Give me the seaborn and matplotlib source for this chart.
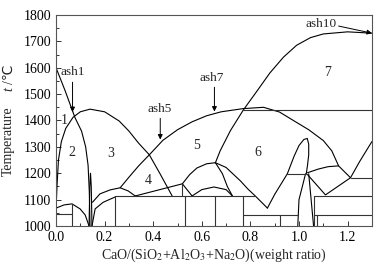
"""
Phase diagram of ash composition: temperature vs CaO/(SiO2+Al2O3+Na2O).
Saves out.png at 389x272 px.
"""
import numpy as np
import matplotlib
matplotlib.use("Agg")
import matplotlib.pyplot as plt
import seaborn as sns

# main liquidus through ash1
liq_x = [0.0, 0.037, 0.078, 0.105, 0.122, 0.132, 0.137, 0.14]
liq_t = [1600, 1514, 1411, 1360, 1300, 1230, 1130, 1000]

# dome around regions 1-3
dome1_x = [0.0, 0.004, 0.01, 0.022, 0.04, 0.07, 0.1, 0.14, 0.2, 0.26, 0.3, 0.34, 0.384, 0.43, 0.478]
dome1_t = [1060, 1150, 1250, 1320, 1370, 1412, 1433, 1443, 1433, 1398, 1360, 1314, 1270, 1195, 1114]

# rising branch through ash5/ash7 (dome of region 5)
dome5_x = [0.264, 0.3, 0.34, 0.384, 0.44, 0.5, 0.56, 0.62, 0.68, 0.77, 0.854, 0.92, 0.977, 1.04, 1.1, 1.135, 1.163]
dome5_t = [1145, 1185, 1228, 1270, 1325, 1365, 1395, 1418, 1433, 1445, 1450, 1432, 1400, 1365, 1324, 1285, 1228]

# curve bounding region 7 (ash10)
c7_x = [0.656, 0.676, 0.718, 0.771, 0.829, 0.88, 0.936, 0.99, 1.047, 1.1, 1.2, 1.3]
c7_t = [1240, 1286, 1362, 1440, 1514, 1580, 1640, 1685, 1714, 1728, 1736, 1731]

# low temperature boundaries, left part
arc2_x = [0.0, 0.033, 0.066, 0.099, 0.12, 0.136]
arc2_t = [1068, 1080, 1084, 1065, 1042, 1000]
spike_x = [0.136, 0.139, 0.142, 0.145, 0.148]
spike_t = [1000, 1150, 1200, 1150, 1000]
arc3a_x = [0.148, 0.161, 0.194, 0.243]
arc3a_t = [1000, 1065, 1090, 1110]
arc3b_x = [0.15, 0.181, 0.223, 0.264, 0.297, 0.326]
arc3b_t = [1090, 1122, 1137, 1145, 1133, 1114]
line4_x = [0.326, 0.52, 0.56]
line4_t = [1114, 1160, 1114]

# middle part around the junction under region 5
arcj_x = [0.52, 0.55, 0.58, 0.62, 0.656]
arcj_t = [1160, 1195, 1220, 1236, 1240]
midj_x = [0.656, 0.685, 0.705, 0.726]
midj_t = [1240, 1198, 1150, 1114]
small_x = [0.56, 0.6, 0.65, 0.7, 0.726]
small_t = [1114, 1138, 1148, 1138, 1114]
arc6_x = [0.656, 0.7, 0.759, 0.79, 0.82, 0.87]
arc6_t = [1240, 1222, 1171, 1140, 1114, 1068]

# finger near CaO ratio 1.0
fing_x = [0.87, 0.9, 0.952, 0.98, 1.0, 1.02, 1.034, 1.04, 1.04, 1.035, 1.03]
fing_t = [1068, 1120, 1198, 1265, 1305, 1328, 1332, 1310, 1270, 1230, 1198]
down1_x = [1.027, 1.0, 0.995]
down1_t = [1198, 1100, 1000]
down2_x = [1.04, 1.05, 1.06]
down2_t = [1198, 1100, 1000]

# right part
arcr_x = [1.035, 1.08, 1.12, 1.163, 1.212]
arcr_t = [1202, 1216, 1225, 1228, 1183]
vee_x = [1.035, 1.109, 1.212, 1.25, 1.3]
vee_t = [1195, 1118, 1183, 1245, 1320]

# straight isotherms (x0, x1, t)
hlines = [(0.0, 0.066, 1046), (0.243, 0.82, 1114), (0.771, 0.995, 1040),
          (0.952, 1.03, 1198), (1.212, 1.3, 1183), (1.06, 1.3, 1114),
          (1.06, 1.3, 1040), (0.771, 1.3, 1440)]
# verticals (x, t0, t1)
vlines = [(0.066, 1000, 1084), (0.243, 1000, 1114), (0.52, 1114, 1160),
          (0.532, 1000, 1114), (0.656, 1000, 1114), (0.771, 1000, 1114),
          (0.92, 1000, 1040), (1.06, 1000, 1114), (1.076, 1000, 1040)]

region_labels = ["1", "2", "3", "4", "5", "6", "7"]
region_x = [0.033, 0.066, 0.223, 0.38, 0.58, 0.83, 1.118]
region_t = [1400, 1278, 1274, 1171, 1305, 1278, 1583]

ash_labels = ["ash1", "ash5", "ash7", "ash10"]
ash_text_x = [0.068, 0.425, 0.64, 1.09]
ash_text_t = [1583, 1442, 1560, 1766]
ash_from = [(0.068, 1545), (0.429, 1408), (0.652, 1526), (1.163, 1758)]
ash_to = [(0.068, 1432), (0.429, 1328), (0.652, 1434), (1.3, 1731)]

curves = [(liq_x, liq_t), (dome1_x, dome1_t), (dome5_x, dome5_t), (c7_x, c7_t),
          (arc2_x, arc2_t), (spike_x, spike_t), (arc3a_x, arc3a_t),
          (arc3b_x, arc3b_t), (line4_x, line4_t), (arcj_x, arcj_t),
          (midj_x, midj_t), (small_x, small_t), (arc6_x, arc6_t),
          (fing_x, fing_t), (down1_x, down1_t), (down2_x, down2_t),
          (arcr_x, arcr_t), (vee_x, vee_t)]

sns.set_style("ticks")
plt.rcParams["font.family"] = ["Liberation Serif", "DejaVu Sans"]
plt.rcParams["mathtext.fontset"] = "stix"

fig = plt.figure(figsize=(3.89, 2.72), dpi=100)
ax = fig.add_axes([0.144, 0.169, 0.812, 0.776])

for cx, ct in curves:
    sns.lineplot(x=cx, y=ct, sort=False, estimator=None, color="black",
                 linewidth=0.8, ax=ax)
for x0, x1, t in hlines:
    ax.plot([x0, x1], [t, t], color="#333333", linewidth=0.8)
for x, t0, t1 in vlines:
    ax.plot([x, x], [t0, t1], color="#333333", linewidth=0.8)

for lab, x, t in zip(region_labels, region_x, region_t):
    ax.text(x, t, lab, ha="center", va="center", fontsize=10)

for lab, x, t, p0, p1 in zip(ash_labels, ash_text_x, ash_text_t, ash_from, ash_to):
    ax.text(x, t, lab, ha="center", va="center", fontsize=9.5)
    ax.annotate("", xy=p1, xytext=p0,
                arrowprops=dict(arrowstyle="-|>", color="black", lw=0.7,
                                mutation_scale=7, shrinkA=0, shrinkB=0))

ax.set_xlim(0, 1.3)
ax.set_ylim(1000, 1800)
ax.set_xticks([0.0, 0.2, 0.4, 0.6, 0.8, 1.0, 1.2])
ax.set_xticks(np.arange(0.1, 1.3, 0.2), minor=True)
ax.set_yticks(range(1000, 1801, 100))
ax.set_yticks(range(1050, 1800, 100), minor=True)
ax.xaxis.set_major_formatter(matplotlib.ticker.FormatStrFormatter("%.1f"))
ax.tick_params(which="both", direction="in", labelsize=10, width=0.7,
               colors="#333333", labelcolor="black")
ax.tick_params(which="major", length=3.5)
ax.tick_params(which="minor", length=2)
for s in ax.spines.values():
    s.set_color("#555555")
    s.set_linewidth(0.8)

ax.set_xlabel("CaO/(SiO$_2$+Al$_2$O$_3$+Na$_2$O)(weight ratio)", fontsize=10, labelpad=2)
# y label in three pieces so the degree sign can fall back to DejaVu
ax.set_ylabel("Temperature", fontsize=10)
ax.yaxis.set_label_coords(-0.13, 0.40)
ax.text(-0.148, 0.65, "t", style="italic", fontsize=10, rotation=90,
        ha="center", va="center", transform=ax.transAxes)
ax.text(-0.148, 0.72, "/℃", fontsize=10, rotation=90,
        ha="center", va="center", transform=ax.transAxes)

fig.savefig("out.png", dpi=100)
